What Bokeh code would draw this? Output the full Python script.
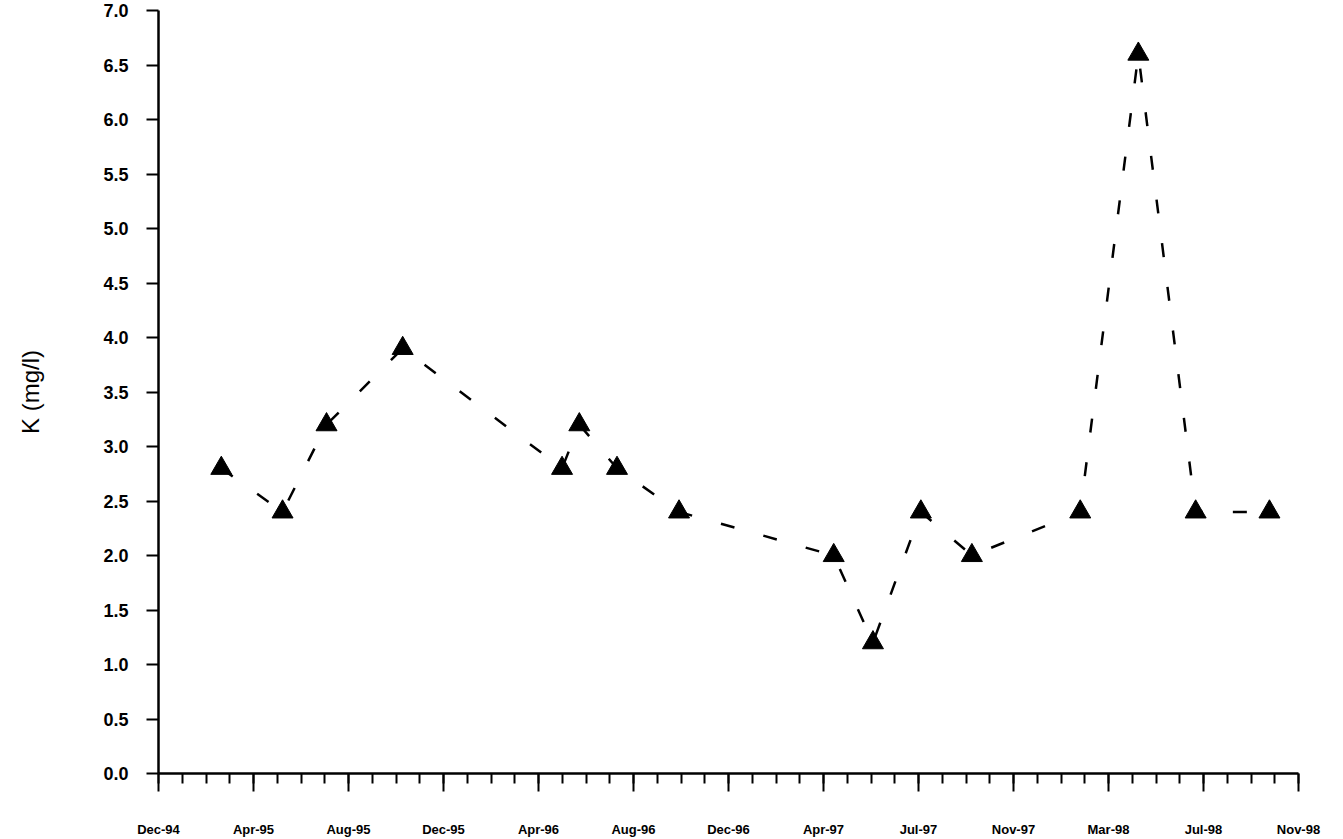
import pandas as pd
from bokeh.plotting import figure
from bokeh.models import Range1d, FixedTicker, NumeralTickFormatter
from bokeh.embed import file_html
from bokeh.resources import INLINE

# ---- data ----
sample_dates = ["1995-02-23", "1995-05-12", "1995-07-07", "1995-10-12",
                "1996-05-02", "1996-05-24", "1996-07-11", "1996-09-28",
                "1997-04-13", "1997-06-02", "1997-08-02", "1997-10-06",
                "1998-02-21", "1998-05-06", "1998-07-18", "1998-10-20"]
k_mg_l = [2.8, 2.4, 3.2, 3.9,
          2.8, 3.2, 2.8, 2.4,
          2.0, 1.2, 2.4, 2.0,
          2.4, 6.6, 2.4, 2.4]
tick_labels = ["Dec-94", "Apr-95", "Aug-95", "Dec-95", "Apr-96", "Aug-96", "Dec-96",
               "Apr-97", "Jul-97", "Nov-97", "Mar-98", "Jul-98", "Nov-98"]
axis_origin = "1994-12-05"
tick_step_days = 121
minor_per_major = 4
y_ticks = [0.0, 0.5, 1.0, 1.5, 2.0, 2.5, 3.0, 3.5, 4.0, 4.5, 5.0, 5.5, 6.0, 6.5, 7.0]
y_label = "K (mg/l)"

# ---- derived ----
origin = pd.Timestamp(axis_origin)
x_days = [(pd.Timestamp(d) - origin).days for d in sample_dates]
major = [i * tick_step_days for i in range(len(tick_labels))]
minor = [i * tick_step_days / minor_per_major
         for i in range((len(tick_labels) - 1) * minor_per_major + 1)]

FONT = "Liberation Sans"

p = figure(width=1343, height=839, output_backend="svg", toolbar_location=None,
           x_range=Range1d(major[0], major[-1]), y_range=Range1d(y_ticks[0], y_ticks[-1]),
           min_border_left=158, min_border_right=45, min_border_top=10, min_border_bottom=66)
p.xgrid.visible = False
p.ygrid.visible = False
p.outline_line_color = None
p.background_fill_color = "white"
p.border_fill_color = "white"

xa = p.xaxis[0]
xa.ticker = FixedTicker(ticks=major, minor_ticks=minor)
xa.major_label_overrides = {t: lab for t, lab in zip(major, tick_labels)}
xa.axis_line_width = 2.5
xa.axis_line_color = "black"
xa.major_tick_out = 18
xa.major_tick_in = 0
xa.minor_tick_out = 10
xa.minor_tick_in = 0
xa.major_tick_line_width = 2
xa.minor_tick_line_width = 2
xa.major_tick_line_color = "black"
xa.minor_tick_line_color = "black"
xa.major_label_text_font = FONT
xa.major_label_text_font_size = "13px"
xa.major_label_text_font_style = "bold"
xa.major_label_text_color = "black"
xa.major_label_standoff = 30

ya = p.yaxis[0]
ya.ticker = FixedTicker(ticks=y_ticks)
ya.formatter = NumeralTickFormatter(format="0.0")
ya.axis_line_width = 2.5
ya.axis_line_color = "black"
ya.major_tick_out = 12
ya.major_tick_in = 0
ya.minor_tick_out = 0
ya.minor_tick_in = 0
ya.major_tick_line_width = 2
ya.major_tick_line_color = "black"
ya.major_label_text_font = FONT
ya.major_label_text_font_size = "18px"
ya.major_label_text_font_style = "bold"
ya.major_label_text_color = "black"
ya.major_label_standoff = 18
ya.axis_label = y_label
ya.axis_label_text_font = FONT
ya.axis_label_text_font_size = "24px"
ya.axis_label_text_font_style = "normal"
ya.axis_label_text_color = "black"
ya.axis_label_standoff = 56

p.line(x_days, k_mg_l, line_color="black", line_width=2.5, line_dash="14 30")
p.scatter(x_days, k_mg_l, marker="triangle", size=21, fill_color="black", line_color="black")

with open("out.html", "w") as f:
    f.write(file_html(p, INLINE))
